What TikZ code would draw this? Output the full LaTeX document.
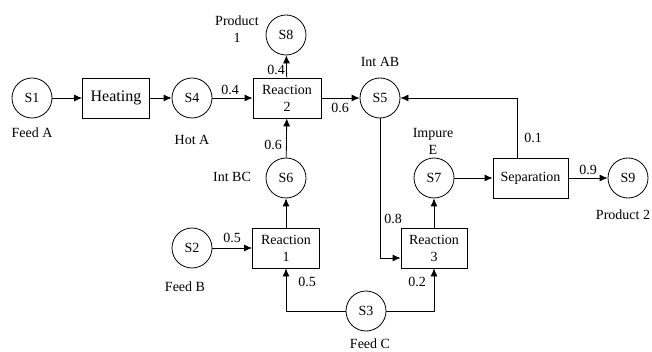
\documentclass[tikz,border=0pt]{standalone}
\usepackage{fontspec}
\setmainfont{Liberation Serif}
\usetikzlibrary{arrows.meta}
\begin{document}
\begin{tikzpicture}[
        x=1pt, y=-1pt,
        font=\fontsize{14}{17}\selectfont,
        stream/.style={draw, circle, minimum size=40pt, inner sep=0pt, line width=0.8pt},
        unit/.style={draw, rectangle, minimum height=40pt, inner sep=0pt, align=center, line width=0.8pt},
        lbl/.style={align=center, inner sep=0pt},
        flow/.style={draw, line width=0.8pt, -{Latex[length=8pt,width=7pt]}},
    ]
    \useasboundingbox (0,0) rectangle (652,352);
    % streams
    \node[stream](s1) at (32,98){S1};
    \node[stream](s4) at (192,98){S4};
    \node[stream](s5) at (380,98){S5};
    \node[stream](s8) at (286,35){S8};
    \node[stream](s6) at (286,178){S6};
    \node[stream](s7) at (434,178){S7};
    \node[stream](s9) at (628,178){S9};
    \node[stream](s2) at (192,248){S2};
    \node[stream](s3) at (366,311){S3};
    % units
    \node[unit, minimum width=67pt, font=\fontsize{16}{19}\selectfont](heat) at (116,98){Heating};
    \node[unit, minimum width=68pt](rx2) at (287,98){Reaction\\2};
    \node[unit, minimum width=67pt](rx1) at (286,248){Reaction\\1};
    \node[unit, minimum width=66pt](rx3) at (434,248){Reaction\\3};
    \node[unit, minimum width=75pt](sep) at (530.5,178){Separation};
    % names
    \node[lbl](feedA) at (32,133){Feed A};
    \node[lbl](hotA) at (192,140){Hot A};
    \node[lbl](prod1) at (237,29){Product\\1};
    \node[lbl](intAB) at (380,62){Int AB};
    \node[lbl](intBC) at (232,177){Int BC};
    \node[lbl](impE) at (433,141){Impure\\E};
    \node[lbl](prod2) at (623,215){Product 2};
    \node[lbl](feedB) at (185,287){Feed B};
    \node[lbl](feedC) at (370,344){Feed C};
    % fractions
    \node[lbl](f41) at (230,90){0.4};
    \node[lbl](f42) at (276,70){0.4};
    \node[lbl](f61) at (340,108){0.6};
    \node[lbl](f62) at (273,145){0.6};
    \node[lbl](f1) at (533,138){0.1};
    \node[lbl](f9) at (588,170){0.9};
    \node[lbl](f8) at (393,219){0.8};
    \node[lbl](f51) at (232,238){0.5};
    \node[lbl](f52) at (307,282){0.5};
    \node[lbl](f2) at (417,282){0.2};
    % connections
    \draw[flow] (s1) -- (heat);
    \draw[flow] (heat) -- (s4);
    \draw[flow] (s4) -- (rx2);
    \draw[flow] (rx2) -- (s8);
    \draw[flow] (rx2) -- (s5);
    \draw[flow] (s6) -- (rx2);
    \draw[flow] (rx1) -- (s6);
    \draw[flow] (s2) -- (rx1);
    \draw[flow] (s3) -| (rx1);
    \draw[flow] (s3) -| (rx3);
    \draw[flow] (s5) |- ([yshift=-10pt]rx3.west);
    \draw[flow] (rx3) -- (s7);
    \draw[flow] (s7) -- (sep);
    \draw[flow] (sep) -- (s9);
    \draw[flow] ([xshift=-13pt]sep.north) |- (s5);
\end{tikzpicture}
\end{document}
